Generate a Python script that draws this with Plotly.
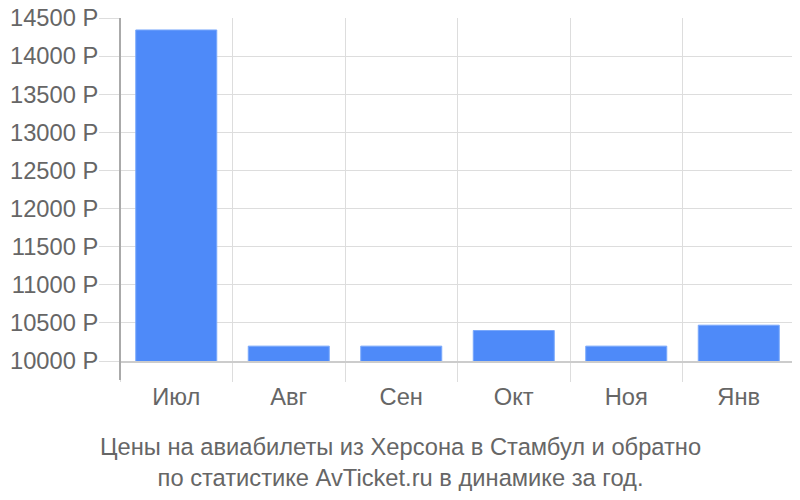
import plotly.graph_objects as go

months = ["Июл", "Авг", "Сен", "Окт", "Ноя", "Янв"]
prices = [14343, 10195, 10195, 10400, 10195, 10470]
ytick_vals = [10000, 10500, 11000, 11500, 12000, 12500, 13000, 13500, 14000, 14500]
ytick_text = [f"{v} Р" for v in ytick_vals]
title_lines = ["Цены на авиабилеты из Херсона в Стамбул и обратно",
               "по статистике AvTicket.ru в динамике за год."]

FS = 23.7
T, B = 10, 147
PH = 500 - T - B

fig = go.Figure(go.Bar(
    x=months, y=prices,
    marker=dict(color="#4e8af9", line=dict(color="#7aa8fb", width=1)),
    hoverinfo="x+y",
))

fig.update_layout(
    width=800, height=500,
    margin=dict(l=112, r=13, t=T, b=B, autoexpand=False),
    paper_bgcolor="white", plot_bgcolor="white",
    font=dict(family="Liberation Sans, Arial, sans-serif", size=FS, color="#666666"),
    bargap=0.28,
    showlegend=False,
    annotations=[dict(
        text="<br>".join(title_lines),
        xref="paper", yref="paper", x=0.4156, y=-71 / PH,
        xanchor="center", yanchor="top", showarrow=False,
        font=dict(size=FS, color="#666666"),
    )],
)
fig.update_xaxes(
    type="category", range=[-0.5, 5.5], automargin=False,
    tickson="boundaries", ticks="outside", ticklen=19, tickcolor="#dddddd",
    ticklabelstandoff=14,
    showgrid=True, gridcolor="#dddddd", gridwidth=1,
    showline=True, linecolor="#cccccc", linewidth=2,
    tickfont=dict(size=FS, color="#666666"),
)
fig.update_yaxes(
    range=[10000, 14500], tickvals=ytick_vals, ticktext=ytick_text, automargin=False,
    ticks="outside", ticklen=20, tickcolor="#dddddd",
    ticklabelstandoff=-4, ticklabeloverflow="allow",
    showgrid=True, gridcolor="#dddddd", gridwidth=1,
    showline=False, zeroline=False,
    tickfont=dict(size=FS, color="#666666"),
)
fig.add_shape(type="line", xref="paper", yref="paper",
              x0=0, x1=0, y0=-19 / PH, y1=1,
              line=dict(color="#aaaaaa", width=2))

fig.write_html("out.html")
